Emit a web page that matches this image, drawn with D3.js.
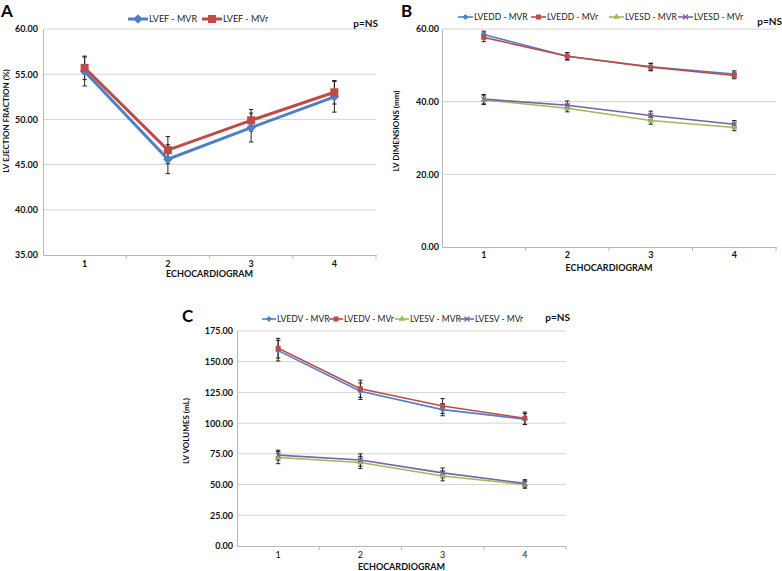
<!DOCTYPE html>
<html><head><meta charset="utf-8">
<script src="https://cdn.jsdelivr.net/npm/d3@7"></script>
<style>body{margin:0;background:#fff}svg{display:block}text{font-family:Lato,"Open Sans",sans-serif}</style>
</head><body>
<svg id="chart" width="782" height="571"></svg>
<script>
// ---------- data ----------
const echoCategories = ["1", "2", "3", "4"];

// Panel A – LV ejection fraction (%)
const lvefMVR = [55.3, 45.6, 49.1, 52.5];
const lvefMVRErr = [1.6, 1.6, 1.6, 1.7];
const lvefMVr = [55.7, 46.6, 49.9, 53.0];
const lvefMVrErr = [1.3, 1.5, 1.2, 1.3];
const ticksA = [35, 40, 45, 50, 55, 60];

// Panel B – LV dimensions (mm)
const lveddMVR = [58.5, 52.5, 49.6, 47.6];
const lveddMVRErr = [0.9, 1.0, 1.0, 0.9];
const lveddMVr = [57.7, 52.5, 49.5, 47.2];
const lveddMVrErr = [1.2, 1.0, 1.0, 0.9];
const lvesdMVR = [40.5, 38.2, 34.8, 32.9];
const lvesdMVRErr = [1.3, 1.0, 1.0, 0.9];
const lvesdMVr = [40.7, 39.0, 36.2, 33.8];
const lvesdMVrErr = [1.3, 1.2, 1.2, 1.0];
const ticksB = [0, 20, 40, 60];

// Panel C – LV volumes (mL)
const lvedvMVR = [159, 126, 111, 103.3];
const lvedvMVRErr = [8.4, 6.7, 5, 4.5];
const lvedvMVr = [161, 128, 114, 104];
const lvedvMVrErr = [8, 7, 6, 5];
const lvesvMVR = [72, 68, 57, 50];
const lvesvMVRErr = [5, 5, 4, 3];
const lvesvMVr = [74, 70, 59.5, 51];
const lvesvMVrErr = [4, 5, 4, 3];
const ticksC = [0, 25, 50, 75, 100, 125, 150, 175];

const BLUE = "#4f7fc4", RED = "#be4b48", GREEN = "#9bbb59", PURPLE = "#7d60a0";

const svg = d3.select("#chart");

function marker(g, type, x, y, color, s) {
  if (type === "diamond") {
    g.append("path").attr("d", d3.symbol(d3.symbolDiamond2, s * s * 0.9)()).attr("transform", `translate(${x},${y})`).attr("fill", color);
  } else if (type === "square") {
    g.append("rect").attr("x", x - s / 2).attr("y", y - s / 2).attr("width", s).attr("height", s).attr("fill", color);
  } else if (type === "triangle") {
    g.append("path").attr("d", d3.symbol(d3.symbolTriangle, s * s * 0.7)()).attr("transform", `translate(${x},${y})`).attr("fill", color);
  } else if (type === "x") {
    const h = s / 2;
    g.append("path").attr("d", `M${x - h},${y - h}L${x + h},${y + h}M${x - h},${y + h}L${x + h},${y - h}`).attr("stroke", color).attr("stroke-width", 1.2);
  }
}

function panel(cfg) {
  const g = svg.append("g");
  const x = d3.scaleBand().domain(echoCategories).range([cfg.left, cfg.right]).padding(0);
  const y = d3.scaleLinear().domain([cfg.ticks[0], cfg.ticks[cfg.ticks.length - 1]]).range([cfg.bottom, cfg.top]);
  const cx = c => x(c) + x.bandwidth() / 2;

  // gridlines
  g.selectAll(".grid").data(cfg.ticks.slice(1)).join("line")
    .attr("x1", cfg.left).attr("x2", cfg.right)
    .attr("y1", d => y(d)).attr("y2", d => y(d))
    .attr("stroke", "#d4d4d4").attr("stroke-width", 1);

  // y axis
  const ya = d3.axisLeft(y).tickValues(cfg.ticks).tickFormat(d3.format(".2f")).tickSize(0).tickPadding(cfg.yPad);
  const yg = g.append("g").attr("transform", `translate(${cfg.left},0)`).call(ya);
  yg.select(".domain").attr("stroke", "#b8b8b8");
  yg.selectAll("text").attr("font-size", 9).attr("font-weight", "bold").attr("fill", "#111");

  // x axis
  const xa = d3.axisBottom(x).tickSize(0).tickPadding(cfg.xPad);
  const xg = g.append("g").attr("transform", `translate(0,${cfg.bottom})`).call(xa);
  xg.select(".domain").attr("stroke", "#b8b8b8");
  xg.selectAll("text").attr("font-size", 9).attr("font-weight", cfg.xBold ? "bold" : "normal").attr("fill", "#111");
  g.selectAll(".xt").data(echoCategories.slice(1).concat(["end"])).join("line")
    .attr("x1", d => d === "end" ? cfg.right : x(d)).attr("x2", d => d === "end" ? cfg.right : x(d))
    .attr("y1", cfg.bottom).attr("y2", cfg.bottom + 4).attr("stroke", "#b8b8b8");

  // titles
  g.append("text").attr("x", (cfg.left + cfg.right) / 2).attr("y", cfg.xTitleY).attr("text-anchor", "middle")
    .attr("font-size", 9).attr("font-weight", "bold").attr("fill", "#111").text("ECHOCARDIOGRAM");
  g.append("text").attr("transform", `translate(${cfg.yTitleX},${cfg.yTitleY}) rotate(-90)`).attr("text-anchor", "middle")
    .attr("font-size", 8).attr("font-weight", "bold").attr("fill", "#111").text(cfg.yTitle);
  g.append("text").attr("x", cfg.letterX).attr("y", cfg.letterY).attr("font-size", 17).attr("font-weight", "bold")
    .attr("font-family", "Liberation Sans, Arial, sans-serif").attr("fill", "#000").text(cfg.letter);
  g.append("text").attr("x", cfg.pX).attr("y", cfg.pY).attr("text-anchor", "end")
    .attr("font-size", 10).attr("font-weight", "bold").attr("fill", "#111").text("p=NS");

  // series
  const line = d3.line().x((d, i) => cx(echoCategories[i])).y(d => y(d));
  cfg.series.forEach(s => {
    g.append("path").datum(s.values).attr("d", line).attr("fill", "none")
      .attr("stroke", s.color).attr("stroke-width", cfg.lineW);
  });
  cfg.series.forEach(s => {
    s.values.forEach((v, i) => {
      const px = cx(echoCategories[i]);
      const e = s.err[i];
      g.append("line").attr("x1", px).attr("x2", px).attr("y1", y(v - e)).attr("y2", y(v + e)).attr("stroke", "#222").attr("stroke-width", 1);
      [v - e, v + e].forEach(w => g.append("line").attr("x1", px - 2.2).attr("x2", px + 2.2).attr("y1", y(w)).attr("y2", y(w)).attr("stroke", "#222").attr("stroke-width", 1));
    });
  });
  cfg.series.forEach(s => {
    s.values.forEach((v, i) => marker(g, s.marker, cx(echoCategories[i]), y(v), s.color, cfg.markerS));
  });

  // legend
  cfg.series.forEach((s, k) => {
    const lx = cfg.legendX[k], ly = cfg.legendY;
    g.append("line").attr("x1", lx).attr("x2", lx + cfg.legendLen).attr("y1", ly).attr("y2", ly)
      .attr("stroke", s.color).attr("stroke-width", cfg.lineW);
    marker(g, s.marker, lx + cfg.legendLen / 2, ly, s.color, cfg.markerS);
    g.append("text").attr("x", lx + cfg.legendLen + 1).attr("y", ly + 3.2).attr("font-size", cfg.legendFont)
      .attr("fill", "#222").text(s.name);
  });
}

panel({
  letter: "A", letterX: 1, letterY: 17,
  left: 43, right: 376, top: 29, bottom: 255, ticks: ticksA, yPad: 5, xPad: 6, xBold: true,
  xTitleY: 277, yTitleX: 9, yTitleY: 121, yTitle: "LV EJECTION FRACTION (%)",
  pX: 378, pY: 27, lineW: 3, markerS: 8, legendY: 19, legendX: [128, 202], legendLen: 20, legendFont: 9,
  series: [
    { name: "LVEF - MVR", values: lvefMVR, err: lvefMVRErr, color: BLUE, marker: "diamond" },
    { name: "LVEF - MVr", values: lvefMVr, err: lvefMVrErr, color: RED, marker: "square" }
  ]
});

panel({
  letter: "B", letterX: 401, letterY: 17,
  left: 442, right: 776, top: 29, bottom: 247, ticks: ticksB, yPad: 3, xPad: 5, xBold: true,
  xTitleY: 271, yTitleX: 399, yTitleY: 131, yTitle: "LV DIMENSIONS (mm)",
  pX: 782, pY: 25, lineW: 1.6, markerS: 5, legendY: 17, legendX: [458, 531, 609, 678], legendLen: 15, legendFont: 8.5,
  series: [
    { name: "LVEDD - MVR", values: lveddMVR, err: lveddMVRErr, color: BLUE, marker: "diamond" },
    { name: "LVEDD - MVr", values: lveddMVr, err: lveddMVrErr, color: RED, marker: "square" },
    { name: "LVESD - MVR", values: lvesdMVR, err: lvesdMVRErr, color: GREEN, marker: "triangle" },
    { name: "LVESD - MVr", values: lvesdMVr, err: lvesdMVrErr, color: PURPLE, marker: "x" }
  ]
});

panel({
  letter: "C", letterX: 182, letterY: 322,
  left: 237, right: 566, top: 331, bottom: 546, ticks: ticksC, yPad: 4, xPad: 6, xBold: false,
  xTitleY: 570, yTitleX: 189, yTitleY: 431, yTitle: "LV VOLUMES (mL)",
  pX: 570, pY: 321, lineW: 1.6, markerS: 5, legendY: 319, legendX: [262, 329, 395, 460], legendLen: 14, legendFont: 8.5,
  series: [
    { name: "LVEDV - MVR", values: lvedvMVR, err: lvedvMVRErr, color: BLUE, marker: "diamond" },
    { name: "LVEDV - MVr", values: lvedvMVr, err: lvedvMVrErr, color: RED, marker: "square" },
    { name: "LVESV - MVR", values: lvesvMVR, err: lvesvMVRErr, color: GREEN, marker: "triangle" },
    { name: "LVESV - MVr", values: lvesvMVr, err: lvesvMVrErr, color: PURPLE, marker: "x" }
  ]
});
</script>
</body></html>
